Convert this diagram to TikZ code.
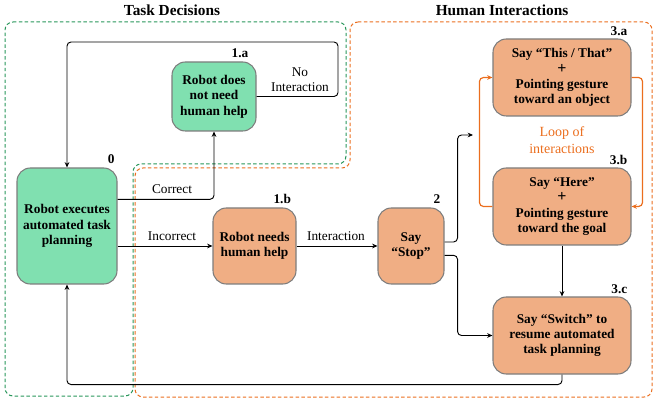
\documentclass[tikz,border=0pt]{standalone}
\usepackage{fontspec}
\setmainfont{Liberation Serif}
\usetikzlibrary{arrows.meta}

\definecolor{greenfill}{RGB}{128,224,176}
\definecolor{orangefill}{RGB}{240,174,132}
\definecolor{boxline}{RGB}{125,125,125}
\definecolor{greendash}{RGB}{40,150,90}
\definecolor{orangedash}{RGB}{235,110,30}

\tikzset{
	box/.style={draw=boxline, line width=0.8pt, rounded corners=10pt, align=center,
		font=\fontsize{10}{11.5}\selectfont\bfseries, inner sep=0pt},
	greenbox/.style={box, fill=greenfill},
	orangebox/.style={box, fill=orangefill},
	steplabel/.style={font=\fontsize{10}{12}\selectfont\bfseries, anchor=south east, inner sep=1pt},
	edgelabel/.style={font=\fontsize{10}{11.5}\selectfont, align=center, inner sep=1pt},
	arr/.style={-{Stealth[length=4pt,width=3.5pt]}, line width=0.7pt, rounded corners=3pt},
	looparr/.style={arr, draw=orangedash, line width=0.9pt},
	area/.style={line width=0.75pt, rounded corners=6pt, dash pattern=on 2.6pt off 1.8pt}
}

\begin{document}
\begin{tikzpicture}[x=0.75pt, y=-0.75pt]
	\useasboundingbox (0,0) rectangle (655,398); % Rand wie im Original
	
	% Bereiche
	\draw[area, draw=greendash] (5,22) -- (346,22) -- (346,164) -- (133,164) -- (133,396) -- (5,396) -- cycle;
	\draw[area, draw=orangedash] (350,22) -- (652,22) -- (652,397) -- (135,397) -- (135,168) -- (350,168) -- cycle;
	
	\node[font=\fontsize{11.5}{13}\selectfont\bfseries] (tasktitle) at (172,10) {Task Decisions};
	\node[font=\fontsize{11.5}{13}\selectfont\bfseries] (humantitle) at (502,10) {Human Interactions};
	
	% Knoten
	\node[greenbox, minimum width=100*0.75pt, minimum height=116*0.75pt] (n0) at (67,226) {Robot executes\\automated task\\planning};
	\node[greenbox, minimum width=84*0.75pt, minimum height=69*0.75pt] (n1a) at (214,96.5) {Robot does\\not need\\human help};
	\node[orangebox, minimum width=83*0.75pt, minimum height=76*0.75pt] (n1b) at (254.5,246) {Robot needs\\human help};
	\node[orangebox, minimum width=66*0.75pt, minimum height=76*0.75pt] (n2) at (411,246) {Say\\“Stop”};
	\node[orangebox, minimum width=138*0.75pt, minimum height=77*0.75pt] (n3a) at (562,77.5) {Say “This / That”\\{\large +}\\Pointing gesture\\toward an object};
	\node[orangebox, minimum width=138*0.75pt, minimum height=77*0.75pt] (n3b) at (562,206.5) {Say “Here”\\{\large +}\\Pointing gesture\\toward the goal};
	\node[orangebox, minimum width=138*0.75pt, minimum height=77*0.75pt] (n3c) at (562,335.5) {Say “Switch” to\\resume automated\\task planning};
	
	% Nummern
	\node[steplabel] (l0) at ([xshift=-1pt,yshift=2pt]n0.north east) {0};
	\node[steplabel] (l1a) at ([xshift=-5pt,yshift=2pt]n1a.north east) {1.a};
	\node[steplabel] (l1b) at ([xshift=-3pt,yshift=2pt]n1b.north east) {1.b};
	\node[steplabel] (l2) at ([xshift=-2pt,yshift=2pt]n2.north east) {2};
	\node[steplabel] (l3a) at ([xshift=-2pt,yshift=1pt]n3a.north east) {3.a};
	\node[steplabel] (l3b) at ([xshift=-2pt,yshift=1pt]n3b.north east) {3.b};
	\node[steplabel] (l3c) at ([xshift=-2pt,yshift=1pt]n3c.north east) {3.c};
	
	% Verbindungen
	\coordinate (tip) at (473,135);
	\draw[arr] ([yshift=20pt]n0.east) -| (n1a.south);
	\draw[arr] ([yshift=-15pt]n0.east) -- (n1b.west);
	\draw[arr] (n1a.east) -| (338,42) -| (n0.north);
	\draw[arr] (n1b.east) -- (n2.west);
	\draw[arr] ([yshift=3pt]n2.east) -- ++(13,0) |- (tip);
	\draw[arr] ([yshift=-7pt]n2.east) -- ++(13,0) |- (n3c.west);
	\draw[arr] (n3b.south) -- (n3c.north);
	\draw[arr] (n3c.south) -- ++(0,10) -| (n0.south);
	
	\draw[looparr] (n3b.west) -- ++(-13,0) |- (n3a.west); % Schleife
	\draw[looparr] (n3a.east) -- ++(11,0) |- (n3b.east);
	
	% Beschriftungen
	\node[edgelabel] (lcorrect) at (172,189) {Correct};
	\node[edgelabel] (lincorrect) at (172,236) {Incorrect};
	\node[edgelabel] (lnoint) at (300,80) {No\\Interaction};
	\node[edgelabel] (linter) at (336,236) {Interaction};
	\node[edgelabel, text=orangedash, font=\fontsize{10.5}{13}\selectfont] (lloop) at (562,140) {Loop of\\interactions};
\end{tikzpicture}
\end{document}
